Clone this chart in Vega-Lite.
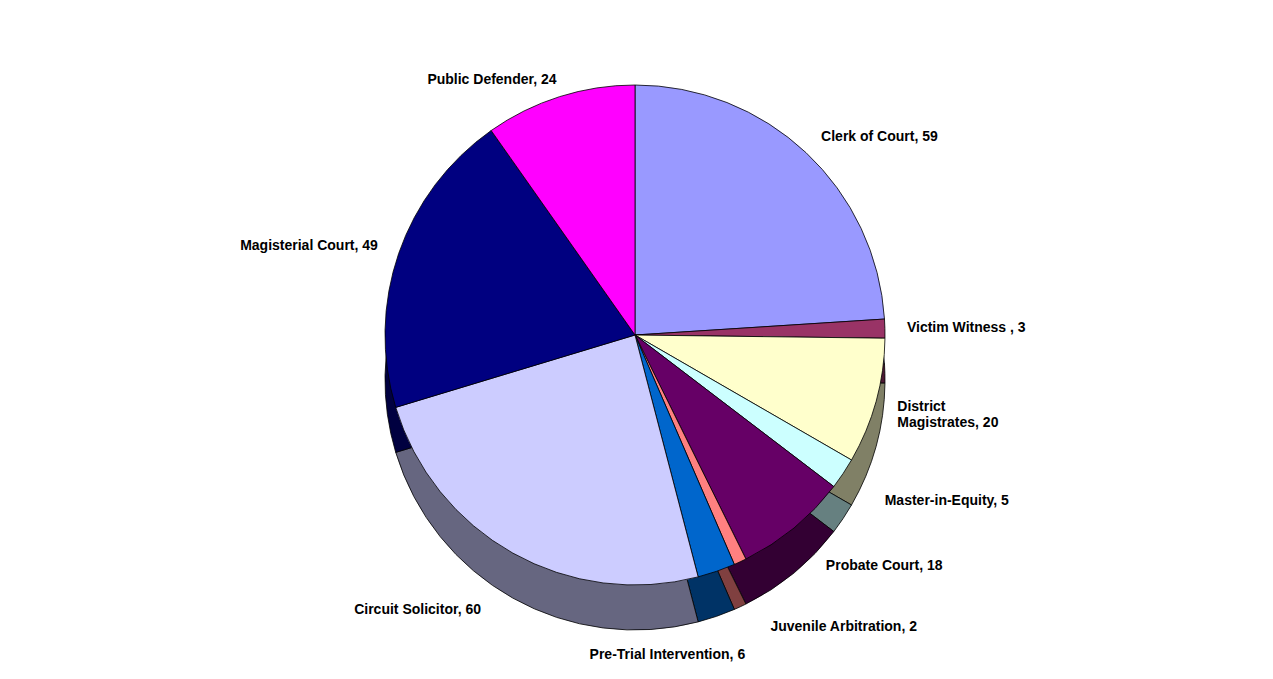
{
  "$schema": "https://vega.github.io/schema/vega-lite/v6.json",
  "width": 1273,
  "height": 679,
  "autosize": {"type": "fit", "contains": "padding"},
  "background": "white",
  "view": {"stroke": null},
  "data": {
    "values": [
      {"idx": 1, "name": "Clerk of Court", "label": "Clerk of Court, 59", "value": 59},
      {"idx": 2, "name": "Victim Witness", "label": "Victim Witness , 3", "value": 3},
      {"idx": 3, "name": "District Magistrates", "label": "District\nMagistrates, 20", "value": 20},
      {"idx": 4, "name": "Master-in-Equity", "label": "Master-in-Equity, 5", "value": 5},
      {"idx": 5, "name": "Probate Court", "label": "Probate Court, 18", "value": 18},
      {"idx": 6, "name": "Juvenile Arbitration", "label": "Juvenile Arbitration, 2", "value": 2},
      {"idx": 7, "name": "Pre-Trial Intervention", "label": "Pre-Trial Intervention, 6", "value": 6},
      {"idx": 8, "name": "Circuit Solicitor", "label": "Circuit Solicitor, 60", "value": 60},
      {"idx": 9, "name": "Magisterial Court", "label": "Magisterial Court, 49", "value": 49},
      {"idx": 10, "name": "Public Defender", "label": "Public Defender, 24", "value": 24}
    ]
  },
  "encoding": {
    "theta": {"field": "value", "type": "quantitative", "stack": true},
    "order": {"field": "idx", "type": "quantitative"},
    "x": {"value": 630}
  },
  "resolve": {"scale": {"color": "independent"}},
  "layer": [
    {
      "mark": {"type": "arc", "outerRadius": 250, "stroke": "black", "strokeWidth": 0.8},
      "encoding": {
        "y": {"value": 325},
        "color": {
          "field": "name",
          "type": "nominal",
          "legend": null,
          "scale": {
            "domain": ["Clerk of Court", "Victim Witness", "District Magistrates", "Master-in-Equity", "Probate Court", "Juvenile Arbitration", "Pre-Trial Intervention", "Circuit Solicitor", "Magisterial Court", "Public Defender"],
            "range": ["#4D4D80", "#4D1933", "#808066", "#668080", "#330033", "#804040", "#003366", "#666680", "#000040", "#800080"]
          }
        }
      }
    },
    {
      "mark": {"type": "arc", "outerRadius": 250, "stroke": "black", "strokeWidth": 0.8},
      "encoding": {
        "y": {"value": 280},
        "color": {
          "field": "name",
          "type": "nominal",
          "legend": null,
          "scale": {
            "domain": ["Clerk of Court", "Victim Witness", "District Magistrates", "Master-in-Equity", "Probate Court", "Juvenile Arbitration", "Pre-Trial Intervention", "Circuit Solicitor", "Magisterial Court", "Public Defender"],
            "range": ["#9999FF", "#993366", "#FFFFCC", "#CCFFFF", "#660066", "#FF8080", "#0066CC", "#CCCCFF", "#000080", "#FF00FF"]
          }
        }
      }
    },
    {
      "mark": {"type": "text", "radius": 272, "align": "left", "baseline": "middle", "font": "Liberation Sans", "fontWeight": "bold", "fontSize": 14, "color": "black", "lineBreak": "\n"},
      "encoding": {
        "y": {"value": 280},
        "text": {"condition": {"test": "indexof(['Clerk of Court','Victim Witness','District Magistrates'], datum.name) >= 0", "field": "label"}, "value": ""}
      }
    },
    {
      "mark": {"type": "text", "radius": 300, "align": "left", "baseline": "middle", "font": "Liberation Sans", "fontWeight": "bold", "fontSize": 14, "color": "black"},
      "encoding": {
        "y": {"value": 280},
        "text": {"condition": {"test": "indexof(['Master-in-Equity','Probate Court'], datum.name) >= 0", "field": "label"}, "value": ""}
      }
    },
    {
      "mark": {"type": "text", "radius": 322, "align": "left", "baseline": "middle", "font": "Liberation Sans", "fontWeight": "bold", "fontSize": 14, "color": "black"},
      "encoding": {
        "y": {"value": 280},
        "text": {"condition": {"test": "datum.name === 'Juvenile Arbitration'", "field": "label"}, "value": ""}
      }
    },
    {
      "mark": {"type": "text", "radius": 338, "align": "right", "baseline": "middle", "font": "Liberation Sans", "fontWeight": "bold", "fontSize": 14, "color": "black"},
      "encoding": {
        "y": {"value": 280},
        "text": {"condition": {"test": "datum.name === 'Pre-Trial Intervention'", "field": "label"}, "value": ""}
      }
    },
    {
      "mark": {"type": "text", "radius": 315, "align": "right", "baseline": "middle", "font": "Liberation Sans", "fontWeight": "bold", "fontSize": 14, "color": "black"},
      "encoding": {
        "y": {"value": 280},
        "text": {"condition": {"test": "datum.name === 'Circuit Solicitor'", "field": "label"}, "value": ""}
      }
    },
    {
      "mark": {"type": "text", "radius": 272, "align": "right", "baseline": "middle", "font": "Liberation Sans", "fontWeight": "bold", "fontSize": 14, "color": "black"},
      "encoding": {
        "y": {"value": 280},
        "text": {"condition": {"test": "datum.name === 'Magisterial Court'", "field": "label"}, "value": ""}
      }
    },
    {
      "mark": {"type": "text", "radius": 260, "align": "right", "baseline": "bottom", "font": "Liberation Sans", "fontWeight": "bold", "fontSize": 14, "color": "black"},
      "encoding": {
        "y": {"value": 280},
        "text": {"condition": {"test": "datum.name === 'Public Defender'", "field": "label"}, "value": ""}
      }
    }
  ]
}
